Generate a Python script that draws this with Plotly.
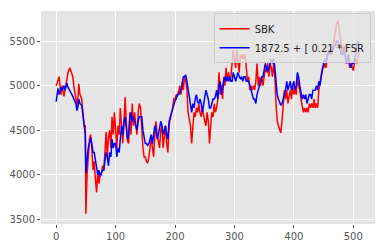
import plotly.graph_objects as go

idx = [0, 3, 5, 8, 10, 13, 15, 18, 20, 23, 25, 28, 30, 33, 35, 37, 38, 40, 43, 45, 47, 49, 50,
       52, 54, 56, 58, 60, 62, 64, 66, 68, 70, 72, 74, 76, 78, 80, 82, 84, 86, 88, 90, 92, 94, 96, 98,
       100, 102, 104, 106, 108, 110, 112, 114, 116, 118, 120, 122, 124, 126, 128, 130, 132, 134, 136, 138,
       140, 142, 144, 146, 148, 150, 152, 154, 156, 158, 160, 162, 164, 166, 168, 170, 172, 174, 176, 178,
       180, 182, 184, 186, 188, 190, 192, 194, 196, 198, 200, 202, 204, 206, 208, 210, 212, 214, 216, 218,
       220, 222, 224, 226, 228, 230, 232, 234, 236, 238, 240, 242, 244, 246, 248, 250, 252, 254, 256, 258,
       260, 262, 264, 266, 268, 270, 272, 274, 276, 278, 280, 282, 284, 286, 288, 290, 292, 294, 296, 298,
       300, 302, 304, 306, 308, 310, 312, 314, 316, 318, 320, 322, 324, 326, 328, 330, 332, 334, 336, 338,
       340, 342, 344, 346, 348, 350, 352, 354, 356, 358, 360, 362, 364, 366, 368, 370, 372, 374, 376, 378,
       380, 382, 384, 386, 388, 390, 392, 394, 396, 398, 400, 402, 404, 406, 408, 410, 412, 414, 416, 418,
       420, 422, 424, 426, 428, 430, 432, 434, 436, 438, 440, 442, 444, 446, 448, 450, 452, 454, 456, 458,
       460, 462, 464, 466, 468, 470, 472, 474, 476, 478, 480, 482, 484, 486, 488, 490, 492, 494, 496, 498,
       500, 502, 504, 506, 508, 510]

sbk = [5000, 5080, 5100, 4900, 5000, 4880, 4950, 5050, 5150, 5200, 5150, 5100, 4980, 4830, 4780, 4900, 5020, 4900, 4850, 4700, 4550, 4550, 3560,
       4000, 4250, 4400, 4450, 4300, 4050, 4150, 3950, 3800, 4050, 3900, 4000, 4000, 4100, 4050, 4250, 4480, 4200, 4420, 4500, 4300, 4650, 4450, 4700,
       4500, 4300, 4550, 4450, 4750, 4500, 4350, 4550, 4870, 4600, 4380, 4350, 4700, 4450, 4800, 4550, 4700, 4550, 4450, 4700,
       4800, 4750, 4450, 4300, 4200, 4200, 4150, 4130, 4200, 4300, 4420, 4300, 4200, 4450, 4600, 4450, 4350, 4300, 4500, 4550,
       4300, 4450, 4550, 4350, 4250, 4550, 4650, 4700, 4750, 4850, 4850, 4900, 4880, 4950, 5000, 4900, 5050, 4950, 5100, 5050,
       4950, 4700, 4600, 4550, 4350, 4500, 4700, 4650, 4750, 4700, 4800, 4700, 4650, 4750, 4650, 4600, 4550, 4700, 4600, 4350,
       4550, 4700, 4650, 4800, 4700, 4750, 4850, 5150, 4900, 5000, 4850, 5100, 5000, 5200, 5050, 5150, 5050, 5100, 5250, 5400,
       5300, 5200, 5400, 5300, 5150, 5350, 5300, 5350, 5300, 5350, 5200, 5050, 5100, 4950, 5000, 4950, 5000, 4950, 5050, 5250,
       5000, 5100, 5000, 5100, 5000, 5100, 5200, 5150, 5250, 5100, 5250, 5200, 5100, 5250, 5100, 4800, 4600, 4550, 4500, 4470,
       4600, 4800, 4950, 4850, 4950, 4800, 4900, 4950, 4850, 5000, 4900, 4950, 4900, 5100, 5000, 4950, 4850, 4750, 4700, 4750,
       4700, 4750, 4700, 4800, 4750, 4800, 4750, 4850, 4750, 4800, 4750, 4950, 5050, 5150, 5200, 5200, 5250, 5200, 5300, 5400,
       5350, 5450, 5350, 5450, 5500, 5600, 5700, 5730, 5650, 5550, 5450, 5350, 5450, 5400, 5300, 5250, 5300, 5200, 5250, 5200,
       5170, 5250, 5300, 5250, 5350, 5400]

fsr_fit = [4820, 4970, 4900, 4980, 4950, 5000, 4950, 5030, 4980, 4950, 4920, 4880, 4850, 4800, 4720, 4780, 4850, 4800, 4780, 4650, 4500, 4450, 4020,
           4200, 4300, 4350, 4420, 4350, 4250, 4250, 4150, 4100, 4000, 4050, 3980, 4020, 4050, 4050, 4150, 4250, 4200, 4100, 4250, 4200, 4400, 4300, 4350,
           4350, 4200, 4300, 4250, 4450, 4550, 4450, 4600, 4650, 4550, 4400, 4450, 4650, 4700, 4600, 4650, 4600, 4520, 4500, 4600,
           4650, 4650, 4650, 4500, 4400, 4350, 4350, 4330, 4350, 4400, 4450, 4350, 4450, 4550, 4500, 4400, 4450, 4550, 4600, 4550,
           4450, 4500, 4550, 4450, 4400, 4600, 4650, 4680, 4750, 4800, 4830, 4850, 4900, 4900, 4920, 4950, 5000, 5100, 5100, 5120,
           5050, 4950, 4850, 4750, 4700, 4800, 4750, 4850, 4900, 4820, 4800, 4850, 4800, 4700, 4800, 4900, 4950, 4900, 4850, 4750,
           4750, 4800, 4850, 4850, 4880, 4950, 4850, 5000, 5050, 4900, 5000, 5050, 5100, 5050, 5100, 5050, 5100, 5050, 5050, 5150,
           5100, 5050, 5100, 5150, 5100, 5080, 5100, 5050, 5100, 5100, 5050, 5050, 5050, 5000, 4950, 4900, 4850, 4850, 4800, 4900,
           4950, 5000, 5050, 5100, 5100, 5200, 5250, 5200, 5150, 5200, 5250, 5300, 5250, 5300, 5200, 5050, 4900, 4850, 4800, 4780,
           4800, 4850, 4900, 4950, 5050, 4950, 5000, 5050, 4950, 5000, 5050, 4950, 5000, 5150, 5100, 5000, 4900, 4850, 4900, 4850,
           4900, 4800, 4850, 4900, 4900, 4850, 4950, 4950, 4950, 5000, 4950, 5050, 5000, 5100, 5200, 5250, 5300, 5250, 5350, 5350,
           5400, 5350, 5400, 5400, 5450, 5450, 5500, 5500, 5450, 5400, 5350, 5350, 5400, 5350, 5250, 5300, 5350, 5250, 5200, 5250,
           5250, 5300, 5350, 5450, 5500, 5450]

x_ticks = [0, 100, 200, 300, 400, 500]
y_ticks = [3500, 4000, 4500, 5000, 5500]

fig = go.Figure()
fig.add_trace(go.Scatter(x=idx, y=sbk, mode="lines", name="SBK",
                         line=dict(color="#ff0000", width=1.5)))
fig.add_trace(go.Scatter(x=idx, y=fsr_fit, mode="lines", name="1872.5 + [ 0.21 * FSR",
                         line=dict(color="#0000ff", width=1.5)))

axis_common = dict(showgrid=True, gridcolor="white", gridwidth=1, zeroline=False,
                   ticks="outside", ticklen=3, tickcolor="#555555", showline=False,
                   tickfont=dict(family="DejaVu Sans", size=10, color="#555555"))
fig.update_xaxes(range=[-25.55, 536.55], tickvals=x_ticks, **axis_common)
fig.update_yaxes(range=[3446, 5839], tickvals=y_ticks, **axis_common)

fig.update_layout(
    width=385, height=252,
    margin=dict(l=41, r=10, t=11, b=24),
    paper_bgcolor="white", plot_bgcolor="#e5e5e5",
    font=dict(family="DejaVu Sans", size=10, color="#222222"),
    legend=dict(x=0.987, y=0.99, xanchor="right", yanchor="top",
                bgcolor="rgba(229,229,229,0.8)", bordercolor="#cccccc", borderwidth=1,
                font=dict(family="DejaVu Sans", size=10, color="#222222"),
                itemwidth=30, tracegroupgap=0),
    showlegend=True,
)

fig.write_html("out.html")
